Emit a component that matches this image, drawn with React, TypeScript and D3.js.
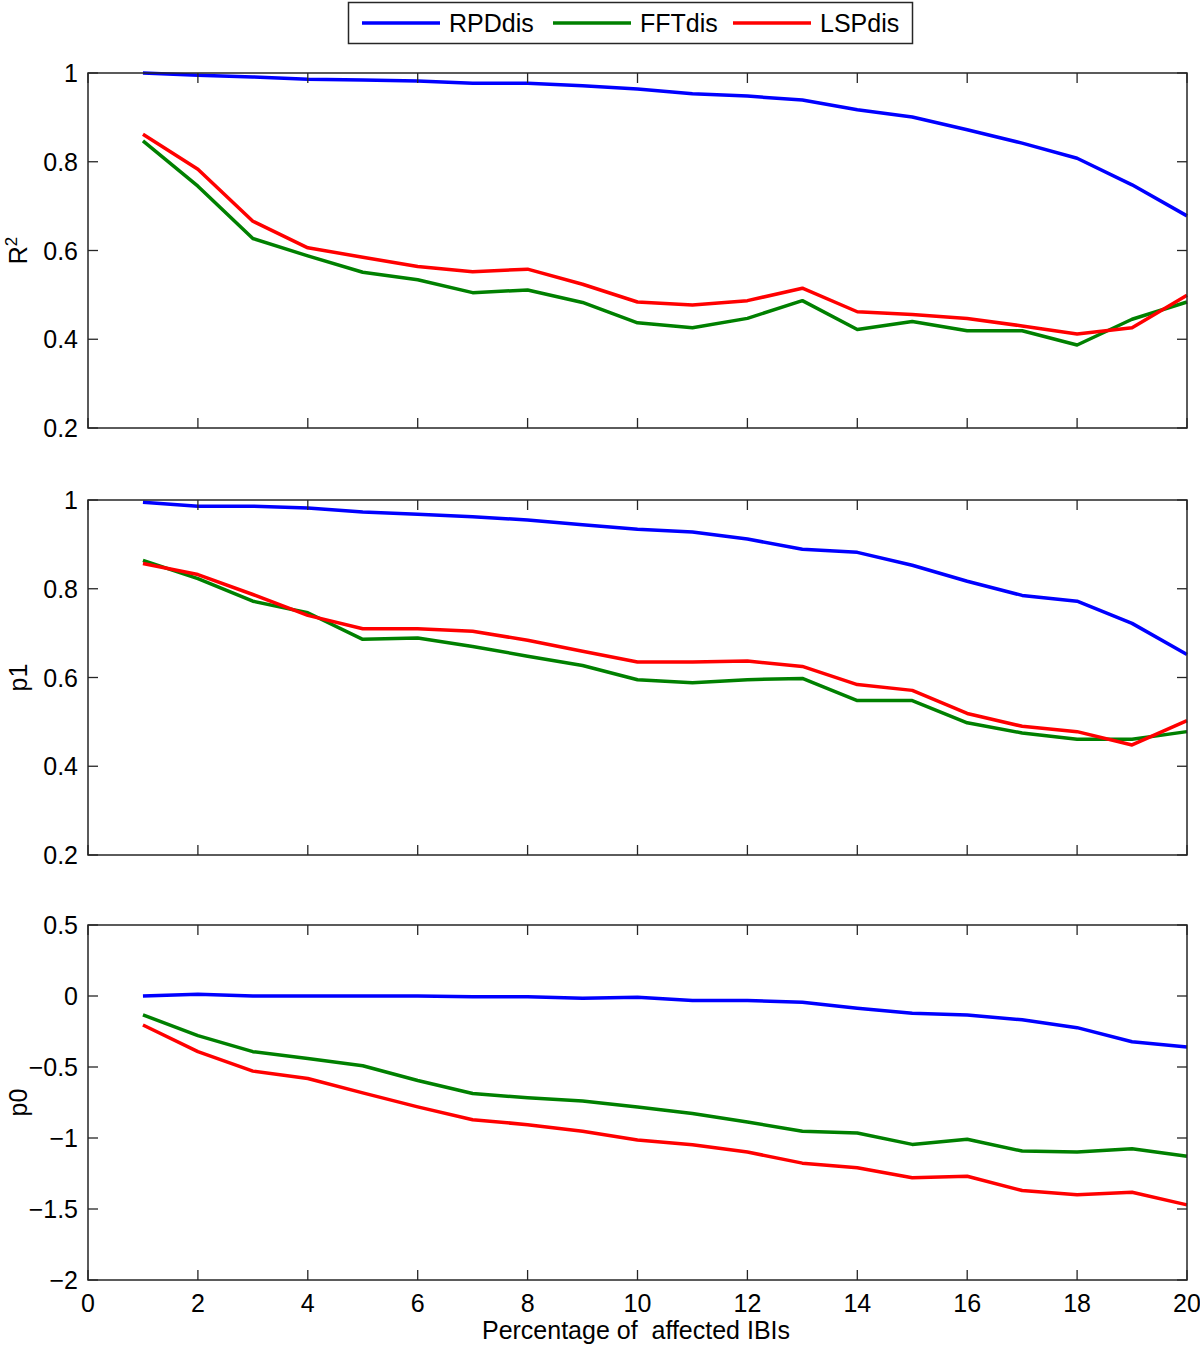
import { useRef, useEffect } from 'react';
import * as d3 from 'd3';

const xs = d3.range(1, 21);

const seriesNames = ['RPDdis', 'FFTdis', 'LSPdis'];
const seriesColors = ['#0000ff', '#008000', '#ff0000'];

// Panel 1: R^2
const r2Rpd = [1.0, 0.995, 0.991, 0.986, 0.984, 0.982, 0.977, 0.977, 0.971, 0.964, 0.953, 0.948, 0.939, 0.917, 0.901, 0.872, 0.842, 0.808, 0.748, 0.678];
const r2Fft = [0.847, 0.745, 0.627, 0.588, 0.551, 0.534, 0.505, 0.511, 0.483, 0.437, 0.426, 0.447, 0.487, 0.422, 0.440, 0.419, 0.419, 0.387, 0.445, 0.484];
const r2Lsp = [0.862, 0.783, 0.666, 0.606, 0.585, 0.564, 0.552, 0.558, 0.524, 0.484, 0.477, 0.487, 0.515, 0.462, 0.456, 0.447, 0.430, 0.412, 0.426, 0.499];

// Panel 2: p1
const p1Rpd = [0.995, 0.986, 0.986, 0.982, 0.973, 0.968, 0.962, 0.955, 0.944, 0.934, 0.928, 0.912, 0.889, 0.882, 0.853, 0.817, 0.785, 0.772, 0.722, 0.652];
const p1Fft = [0.864, 0.823, 0.772, 0.746, 0.686, 0.689, 0.670, 0.648, 0.627, 0.595, 0.588, 0.595, 0.598, 0.548, 0.548, 0.498, 0.475, 0.461, 0.461, 0.478];
const p1Lsp = [0.857, 0.832, 0.787, 0.740, 0.710, 0.710, 0.704, 0.684, 0.659, 0.635, 0.635, 0.637, 0.625, 0.584, 0.571, 0.519, 0.490, 0.478, 0.448, 0.503];

// Panel 3: p0
const p0Rpd = [0.0, 0.013, 0.0, 0.0, 0.0, 0.0, -0.006, -0.006, -0.015, -0.008, -0.032, -0.032, -0.044, -0.086, -0.121, -0.133, -0.168, -0.223, -0.322, -0.359];
const p0Fft = [-0.133, -0.279, -0.392, -0.44, -0.491, -0.595, -0.687, -0.717, -0.739, -0.781, -0.828, -0.887, -0.953, -0.965, -1.045, -1.009, -1.092, -1.099, -1.075, -1.129];
const p0Lsp = [-0.204, -0.392, -0.529, -0.581, -0.682, -0.781, -0.871, -0.906, -0.953, -1.014, -1.047, -1.099, -1.177, -1.21, -1.28, -1.269, -1.37, -1.4, -1.382, -1.471];

const xTicks = d3.range(0, 21, 2);
const panels = [
    { label: 'R', sup: '2', domain: [0.2, 1], ticks: [0.2, 0.4, 0.6, 0.8, 1], series: [r2Rpd, r2Fft, r2Lsp] },
    { label: 'p1', sup: '', domain: [0.2, 1], ticks: [0.2, 0.4, 0.6, 0.8, 1], series: [p1Rpd, p1Fft, p1Lsp] },
    { label: 'p0', sup: '', domain: [-2, 0.5], ticks: [-2, -1.5, -1, -0.5, 0, 0.5], series: [p0Rpd, p0Fft, p0Lsp] },
];

const W = 1200;
const H = 1345;
const FONT = 'Liberation Sans, Arial, Helvetica, sans-serif';
const FS = 25;

document.body.style.margin = '0';

export default function App() {
    const svgRef = useRef<SVGSVGElement>(null);

    useEffect(() => {
        if (!svgRef.current) return;
        const svg = d3.select(svgRef.current);
        svg.selectAll('*').remove();

        const left = 88;
        const right = 1187;
        const tops = [73, 500, 925];
        const ph = 355;
        const tickLen = 10;

        const x = d3.scaleLinear().domain([0, 20]).range([left, right]);

        panels.forEach((p, pi) => {
            const top = tops[pi];
            const bottom = top + ph;
            const y = d3.scaleLinear().domain(p.domain).range([bottom, top]);
            const g = svg.append('g');

            // lines
            p.series.forEach((vals, si) => {
                const line = d3.line<number>()
                    .x((_, i) => x(xs[i]))
                    .y(d => y(d));
                g.append('path')
                    .datum(vals)
                    .attr('d', line)
                    .attr('fill', 'none')
                    .attr('stroke', seriesColors[si])
                    .attr('stroke-width', 3.5)
                    .attr('stroke-linejoin', 'round');
            });

            // box
            g.append('rect')
                .attr('x', left).attr('y', top)
                .attr('width', right - left).attr('height', ph)
                .attr('fill', 'none')
                .attr('stroke', '#262626')
                .attr('stroke-width', 1.5);

            // x ticks (bottom and top, inward)
            xTicks.forEach(t => {
                const tx = x(t);
                g.append('line').attr('x1', tx).attr('x2', tx).attr('y1', bottom).attr('y2', bottom - tickLen)
                    .attr('stroke', '#262626').attr('stroke-width', 1.3);
                g.append('line').attr('x1', tx).attr('x2', tx).attr('y1', top).attr('y2', top + tickLen)
                    .attr('stroke', '#262626').attr('stroke-width', 1.3);
                if (pi === 2) {
                    g.append('text')
                        .attr('x', tx).attr('y', bottom + 32)
                        .attr('text-anchor', 'middle')
                        .attr('font-size', FS)
                        .attr('font-family', FONT)
                        .text(t);
                }
            });

            // y ticks (left and right, inward)
            p.ticks.forEach(t => {
                const ty = y(t);
                g.append('line').attr('x1', left).attr('x2', left + tickLen).attr('y1', ty).attr('y2', ty)
                    .attr('stroke', '#262626').attr('stroke-width', 1.3);
                g.append('line').attr('x1', right).attr('x2', right - tickLen).attr('y1', ty).attr('y2', ty)
                    .attr('stroke', '#262626').attr('stroke-width', 1.3);
                g.append('text')
                    .attr('x', left - 10).attr('y', ty + 9)
                    .attr('text-anchor', 'end')
                    .attr('font-size', FS)
                    .attr('font-family', FONT)
                    .text(t < 0 ? '\u2212' + Math.abs(t) : String(t));
            });

            // y label
            const cy = (top + bottom) / 2;
            const lab = g.append('text')
                .attr('transform', `translate(27,${cy}) rotate(-90)`)
                .attr('text-anchor', 'middle')
                .attr('font-size', FS)
                .attr('font-family', FONT);
            lab.append('tspan').text(p.label);
            if (p.sup) {
                lab.append('tspan').attr('font-size', 17).attr('dy', -10).text(p.sup);
            }
        });

        // x label
        svg.append('text')
            .attr('x', 636).attr('y', 1339)
            .attr('text-anchor', 'middle')
            .attr('font-size', FS)
            .attr('font-family', FONT)
            .attr('xml:space', 'preserve')
            .style('white-space', 'pre')
            .text('Percentage of  affected IBIs');

        // legend
        const lg = svg.append('g');
        lg.append('rect')
            .attr('x', 348.5).attr('y', 2.5)
            .attr('width', 564).attr('height', 41)
            .attr('fill', '#fff')
            .attr('stroke', '#262626')
            .attr('stroke-width', 1.5);
        const lineStarts = [362, 553, 733];
        seriesNames.forEach((name, i) => {
            const lx = lineStarts[i];
            lg.append('line')
                .attr('x1', lx).attr('x2', lx + 78)
                .attr('y1', 23).attr('y2', 23)
                .attr('stroke', seriesColors[i])
                .attr('stroke-width', 3.5);
            lg.append('text')
                .attr('x', lx + 87).attr('y', 32)
                .attr('font-size', FS)
                .attr('font-family', FONT)
                .text(name);
        });
    }, []);

    return <svg ref={svgRef} width={W} height={H} style={{ display: 'block', background: '#fff' }} />;
}
